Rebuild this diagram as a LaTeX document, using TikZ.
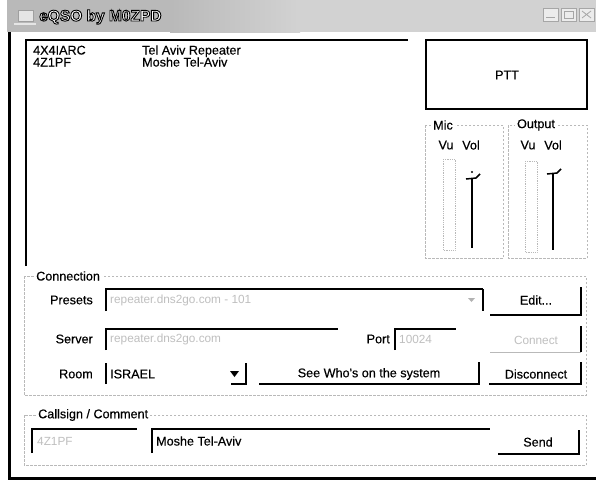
\documentclass[tikz,border=0pt]{standalone}
\usepackage{fontspec}
\setmainfont{Liberation Sans}
\newfontfamily\uifont[FakeBold=0.4]{Liberation Sans}
\begin{document}
\begin{tikzpicture}[x=1pt,y=-1pt,
  lbl/.style={font=\uifont\fontsize{12.6}{14}\selectfont, inner sep=0pt},
  item/.style={lbl, text height=9pt, text depth=2pt},
  dim/.style={font=\fontsize{11.8}{13}\selectfont, inner sep=0pt, text=gray!50},
  sunk/.style={line width=1.3pt, black},
  btn/.style={line width=1.5pt, black},
  grp/.style={draw=gray!55, dash pattern=on 2.5pt off 1.5pt, line width=0.6pt},
  grplbl/.style={lbl, fill=white, inner xsep=2pt, inner ysep=1pt},
  ttl/.style={font=\fontsize{15.5}{17}\selectfont\bfseries, inner sep=0pt},
  wbtn/.style={fill=gray!15, draw=gray!70, line width=0.6pt},
]
\useasboundingbox (0,0) rectangle (596,483);
\fill[white] (0,0) rectangle (596,483);
% title bar
\fill[gray!55] (7,0) rectangle (596,32);
\fill[gray!35] (300,0) rectangle (596,32);
\shade[left color=gray!55, right color=gray!35] (170,0) rectangle (300,32);
\fill[gray!20] (18,10) rectangle (33,21);
\draw[gray!75, line width=0.6pt] (18,10) rectangle (33,21);
\draw[gray!20, line width=1.2pt] (14,24) -- (36,24);
\node[ttl, text=white, anchor=west] (title) at (39,17)
  {\special{pdf:literal direct 0 0 0 RG 0.9 w 2 Tr}eQSO by M0ZPD\special{pdf:literal direct 0 Tr}};
\draw[wbtn] (543,8) rectangle (558,21);
\draw[wbtn] (561,8) rectangle (576,21);
\draw[wbtn] (579,8) rectangle (594,21);
\draw[gray!70, line width=0.8pt] (546,17) -- (555,17);
\draw[gray!70, line width=0.8pt] (564,11) rectangle (573,18);
\draw[gray!70, line width=0.8pt] (582,11) -- (591,18) (582,18) -- (591,11);
% window border
\draw[line width=3pt] (9,32) -- (9,478) -- (596,478);
% list box
\draw[sunk] (26,266) -- (26,40) -- (408,40);
\node[item, anchor=west] (c1) at (33,51) {4X4IARC};
\node[item, anchor=west] (c2) at (33,63) {4Z1PF};
\node[item, anchor=west] (n1) at (142,51) {Tel Aviv Repeater};
\node[item, anchor=west] (n2) at (142,63) {Moshe Tel-Aviv};
% PTT
\draw[line width=1.3pt] (426,40) rectangle (587,109);
\node[lbl] (ptt) at (507,75) {PTT};
% Mic / Output groups
\draw[grp] (425,125) rectangle (503,258);
\node[grplbl] (mic) at (443,125) {Mic};
\draw[grp] (508,125) rectangle (587,258);
\node[grplbl] (out) at (536,125) {Output};
\node[lbl] (mvu) at (446,145) {Vu};
\node[lbl] (mvol) at (471,145) {Vol};
\node[lbl] (ovu) at (528,145) {Vu};
\node[lbl] (ovol) at (553,145) {Vol};
\draw[gray!55, densely dotted, line width=0.8pt] (443,159) rectangle (455,250);
\draw[gray!55, densely dotted, line width=0.8pt] (525,161) rectangle (537,252);
\draw[line width=2pt] (472,178) -- (472,248);
\draw[line width=1.5pt] (466,179) -- (476,178) -- (480,174);
\fill (472,172) circle (1.2pt);
\draw[line width=2pt] (553,173) -- (553,250);
\draw[line width=1.5pt] (547,174) -- (557,173) -- (561,169);
% Connection group
\draw[grp] (24,276) rectangle (586,395);
\node[grplbl, anchor=west] (conn) at (34,276) {Connection};
\node[lbl, anchor=east] (presets) at (93,300) {Presets};
\draw[sunk] (106,311) -- (106,289) -- (483,289);
\draw[btn] (483,289) -- (483,311);
\node[dim, anchor=west] (presetval) at (110,300) {repeater.dns2go.com - 101};
\fill[gray!60] (468,298) -- (475,298) -- (471.5,302) -- cycle;
\draw[btn] (490,315) -- (581,315) -- (581,287);
\node[lbl] (edit) at (536,300) {Edit...};
\node[lbl, anchor=east] (server) at (93,339) {Server};
\draw[sunk] (106,350) -- (106,329) -- (338,329);
\node[dim, anchor=west] (serverval) at (110,339) {repeater.dns2go.com};
\node[lbl, anchor=east] (port) at (390,339) {Port};
\draw[sunk] (395,350) -- (395,329) -- (456,329);
\node[dim, anchor=west] (portval) at (399,339) {10024};
\draw[gray!55, line width=1pt] (490,352) -- (581,352);
\draw[btn] (581,352) -- (581,326);
\node[dim] (connect) at (536,340) {Connect};
\node[lbl, anchor=east] (room) at (93,374) {Room};
\draw[sunk] (106,384) -- (106,363);
\draw[btn] (246,363) -- (246,384) -- (231,384);
\node[lbl, anchor=west] (roomval) at (110,374) {ISRAEL};
\fill (230,371) -- (239,371) -- (234.5,377) -- cycle;
\draw[btn] (259,384) -- (479,384) -- (479,362);
\node[lbl] (seewho) at (369,374) {See Who's on the system};
\draw[btn] (489,384) -- (581,384) -- (581,362);
\node[lbl] (disc) at (536,374) {Disconnect};
% Callsign group
\draw[grp] (24,415) rectangle (586,465);
\node[grplbl, anchor=west] (cs) at (36,415) {Callsign / Comment};
\draw[sunk] (32,453) -- (32,429) -- (137,429);
\node[dim, anchor=west] (csval) at (37,441) {4Z1PF};
\draw[sunk] (152,453) -- (152,429) -- (490,429);
\node[lbl, anchor=west] (cmval) at (156,441) {Moshe Tel-Aviv};
\draw[btn] (498,454) -- (579,454) -- (579,430);
\node[lbl] (send) at (538,442) {Send};
\end{tikzpicture}
\end{document}
